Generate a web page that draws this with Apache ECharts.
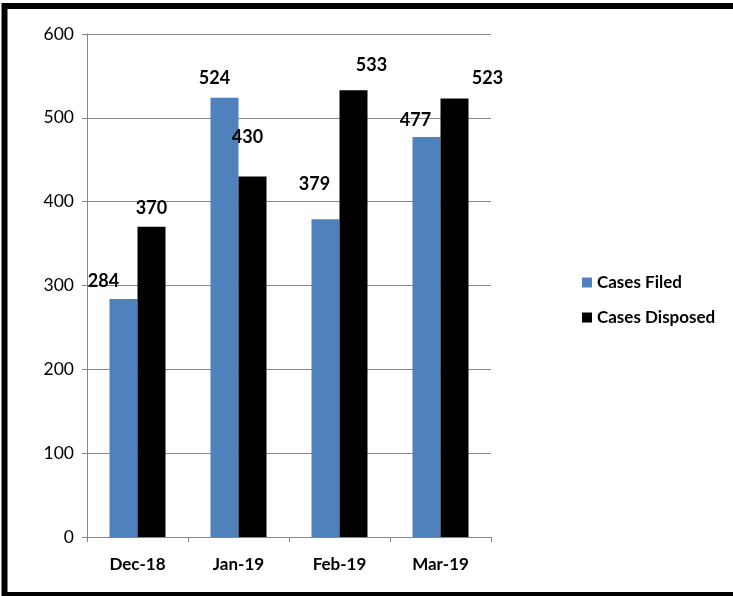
<!DOCTYPE html>
<html>
<head>
<meta charset="utf-8">
<script src="https://cdn.jsdelivr.net/npm/echarts@6/dist/echarts.min.js"></script>
<style>
html,body{margin:0;padding:0;background:#fff;}
#c{width:733px;height:596px;}
</style>
</head>
<body>
<div id="c"></div>
<script>
const categories = ['Dec-18', 'Jan-19', 'Feb-19', 'Mar-19'];
const casesFiled = [284, 524, 379, 477];
const casesDisposed = [370, 430, 533, 523];
const yTicks = [0, 100, 200, 300, 400, 500, 600];

// label placement tweaks (style only)
const filedShift = [[-20, -4], [-10, -6], [-11, -21], [-11, -3]];
const disposedShift = [[0, -5], [-5, -25], [18, -11], [33, -6]];

const FONT = 'Lato';
const chart = echarts.init(document.getElementById('c'));

function mk(vals, shifts) {
  return vals.map((v, i) => ({ value: v, label: { offset: shifts[i] } }));
}

chart.setOption({
  animation: false,
  backgroundColor: '#fff',
  textStyle: { fontFamily: FONT },
  graphic: [{
    type: 'rect',
    shape: { x: 4.5, y: 6, width: 800, height: 589 },
    style: { fill: 'none', stroke: '#000', lineWidth: 6 },
    z: 100
  }],
  grid: { left: 87, right: 242, top: 34, bottom: 59 },
  legend: {
    orient: 'vertical',
    left: 577,
    top: 269,
    itemWidth: 10,
    itemHeight: 10,
    itemGap: 18,
    icon: 'rect',
    textStyle: { fontFamily: FONT, fontWeight: 'bold', fontSize: 17, color: '#000' },
    data: ['Cases Filed', 'Cases Disposed']
  },
  xAxis: {
    type: 'category',
    data: categories,
    axisLine: { lineStyle: { color: '#868686', width: 1 } },
    axisTick: { show: true, length: 5, lineStyle: { color: '#868686' } },
    axisLabel: { fontFamily: FONT, fontWeight: 'bold', fontSize: 17, color: '#000', margin: 19 }
  },
  yAxis: {
    type: 'value',
    min: yTicks[0],
    max: yTicks[yTicks.length - 1],
    interval: 100,
    axisLine: { show: true, lineStyle: { color: '#868686', width: 1 } },
    axisTick: { show: true, length: 5, lineStyle: { color: '#868686' } },
    axisLabel: { fontFamily: FONT, fontSize: 17.5, color: '#000', margin: 13 },
    splitLine: { lineStyle: { color: '#868686', width: 1 } }
  },
  series: [
    {
      name: 'Cases Filed',
      type: 'bar',
      data: mk(casesFiled, filedShift),
      barWidth: 28,
      barGap: '0%',
      itemStyle: { color: '#4F81BD' },
      label: { show: true, position: 'top', fontFamily: FONT, fontWeight: 'bold', fontSize: 18, color: '#000' }
    },
    {
      name: 'Cases Disposed',
      type: 'bar',
      data: mk(casesDisposed, disposedShift),
      barWidth: 28,
      barGap: '0%',
      itemStyle: { color: '#000000' },
      label: { show: true, position: 'top', fontFamily: FONT, fontWeight: 'bold', fontSize: 18, color: '#000' }
    }
  ]
});
</script>
</body>
</html>
